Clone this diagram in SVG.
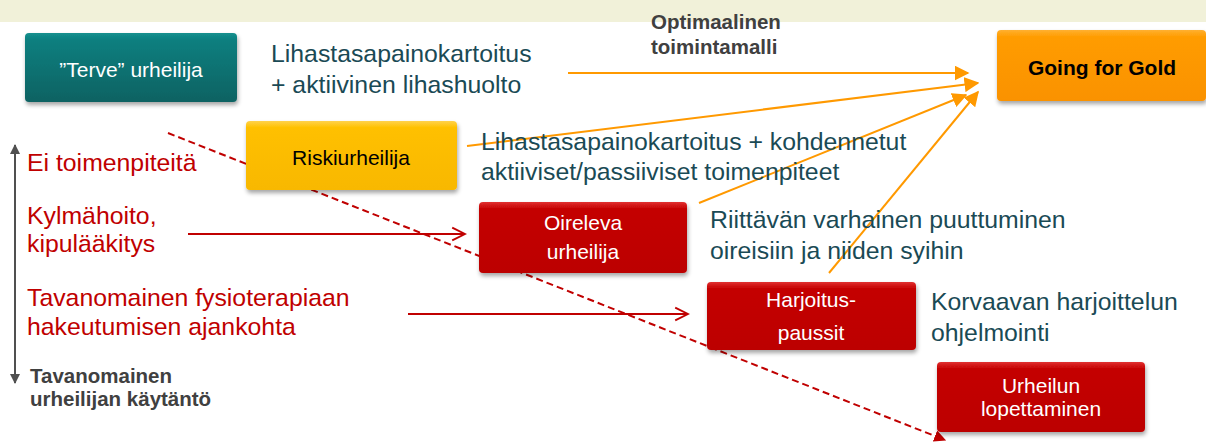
<svg xmlns="http://www.w3.org/2000/svg" width="1206" height="443" viewBox="0 0 1206 443">
<defs>
<style>
.t{font-family:"Liberation Sans",Arial,sans-serif}
.dk{fill:#1A4A55;font-size:24.8px}
.rd{fill:#C00000;font-size:24.8px}
.gr{fill:#404040;font-size:20.5px;font-weight:bold}
.bw{fill:#fff;font-size:21px;text-anchor:middle}
.bb{fill:#000;font-size:21px;text-anchor:middle}
.or{stroke:#FF9900;stroke-width:2;fill:none}
.rl{stroke:#C00000;stroke-width:2;fill:none}
</style>
<linearGradient id="gTeal" x1="0" y1="0" x2="0" y2="1">
<stop offset="0" stop-color="#14908E"/><stop offset="0.1" stop-color="#0E7F7F"/><stop offset="1" stop-color="#0B6262"/></linearGradient>
<linearGradient id="gOr" x1="0" y1="0" x2="0" y2="1">
<stop offset="0" stop-color="#FFB030"/><stop offset="0.1" stop-color="#FF9C00"/><stop offset="1" stop-color="#FA9200"/></linearGradient>
<linearGradient id="gYe" x1="0" y1="0" x2="0" y2="1">
<stop offset="0" stop-color="#FFD24A"/><stop offset="0.1" stop-color="#FFC000"/><stop offset="1" stop-color="#F8B800"/></linearGradient>
<linearGradient id="gRd" x1="0" y1="0" x2="0" y2="1">
<stop offset="0" stop-color="#E03030"/><stop offset="0.1" stop-color="#C40000"/><stop offset="1" stop-color="#BC0000"/></linearGradient>
<filter id="sh" x="-10%" y="-10%" width="120%" height="130%">
<feDropShadow dx="1" dy="3" stdDeviation="2" flood-color="#000" flood-opacity="0.35"/></filter>
<marker id="aO" viewBox="0 0 10 10" refX="9" refY="5" markerWidth="7.5" markerHeight="7.5" orient="auto" markerUnits="strokeWidth">
<path d="M0,0 L10,5 L0,10 z" fill="#FF9900"/></marker>
<marker id="aR" viewBox="0 0 10 10" refX="9" refY="5" markerWidth="8" markerHeight="8" orient="auto" markerUnits="strokeWidth">
<path d="M1,1 L9,5 L1,9" fill="none" stroke="#C00000" stroke-width="1.2"/></marker>
<marker id="aRf" viewBox="0 0 10 10" refX="9" refY="5" markerWidth="6" markerHeight="6" orient="auto" markerUnits="strokeWidth">
<path d="M0,0 L10,5 L0,10 z" fill="#C00000"/></marker>
<marker id="aG" viewBox="0 0 10 10" refX="9" refY="5" markerWidth="5" markerHeight="5" orient="auto-start-reverse" markerUnits="strokeWidth">
<path d="M0,0 L10,5 L0,10 z" fill="#505050"/></marker>
</defs>
<rect x="0" y="0" width="1206" height="443" fill="#fff"/>
<rect x="0" y="0" width="1206" height="22" fill="#F1F1D9"/>

<g id="connectors">
<line class="or" x1="568" y1="73" x2="968" y2="73" marker-end="url(#aO)"/>
<line class="or" x1="467" y1="146" x2="978" y2="83" marker-end="url(#aO)"/>
<line class="or" x1="699" y1="203" x2="966" y2="95" marker-end="url(#aO)"/>
<line class="or" x1="829" y1="273" x2="978" y2="92" marker-end="url(#aO)"/>
<line class="rl" x1="188" y1="234" x2="465" y2="234" marker-end="url(#aR)"/>
<line class="rl" x1="408" y1="314" x2="688" y2="314" marker-end="url(#aR)"/>
<line class="rl" x1="168" y1="133" x2="945" y2="440" stroke-dasharray="7,4" marker-end="url(#aRf)"/>
<line x1="15" y1="145" x2="15" y2="383" stroke="#505050" stroke-width="2" marker-start="url(#aG)" marker-end="url(#aG)"/>
</g>

<g id="terve">
<rect x="25" y="33" width="212" height="69" rx="4" fill="url(#gTeal)" filter="url(#sh)"/>
<text class="t bw" x="131" y="77">”Terve” urheilija</text>
</g>
<g id="gold">
<rect x="997" y="30" width="209" height="71" rx="4" fill="url(#gOr)" filter="url(#sh)"/>
<text class="t bb" x="1102" y="75" font-weight="bold">Going for Gold</text>
</g>
<g id="riski">
<rect x="246" y="121" width="211" height="69" rx="4" fill="url(#gYe)" filter="url(#sh)"/>
<text class="t bb" x="351" y="165">Riskiurheilija</text>
</g>
<g id="oireleva">
<rect x="479" y="202" width="208" height="71" rx="4" fill="url(#gRd)" filter="url(#sh)"/>
<text class="t bw" x="583" y="230">Oireleva</text>
<text class="t bw" x="583" y="259">urheilija</text>
</g>
<g id="harjoitus">
<rect x="707" y="282" width="209" height="68" rx="4" fill="url(#gRd)" filter="url(#sh)"/>
<text class="t bw" x="811" y="307">Harjoitus-</text>
<text class="t bw" x="811" y="340">paussit</text>
</g>
<g id="lopettaminen">
<rect x="937" y="362" width="208" height="70" rx="4" fill="url(#gRd)" filter="url(#sh)"/>
<text class="t bw" x="1041" y="393">Urheilun</text>
<text class="t bw" x="1041" y="416">lopettaminen</text>
</g>

<g id="labels">
<text class="t dk" x="271" y="62">Lihastasapainokartoitus</text>
<text class="t dk" x="271" y="93">+ aktiivinen lihashuolto</text>
<text class="t gr" x="651" y="29">Optimaalinen</text>
<text class="t gr" x="651" y="54">toimintamalli</text>
<text class="t dk" x="481" y="150">Lihastasapainokartoitus + kohdennetut</text>
<text class="t dk" x="481" y="180">aktiiviset/passiiviset toimenpiteet</text>
<text class="t dk" x="710" y="228">Riittävän varhainen puuttuminen</text>
<text class="t dk" x="710" y="259">oireisiin ja niiden syihin</text>
<text class="t dk" x="931" y="310">Korvaavan harjoittelun</text>
<text class="t dk" x="931" y="341">ohjelmointi</text>
<text class="t rd" x="27" y="171">Ei toimenpiteitä</text>
<text class="t rd" x="27" y="224">Kylmähoito,</text>
<text class="t rd" x="27" y="252">kipulääkitys</text>
<text class="t rd" x="27" y="306">Tavanomainen fysioterapiaan</text>
<text class="t rd" x="27" y="335">hakeutumisen ajankohta</text>
<text class="t gr" x="30" y="383">Tavanomainen</text>
<text class="t gr" x="30" y="406">urheilijan käytäntö</text>
</g>
</svg>
